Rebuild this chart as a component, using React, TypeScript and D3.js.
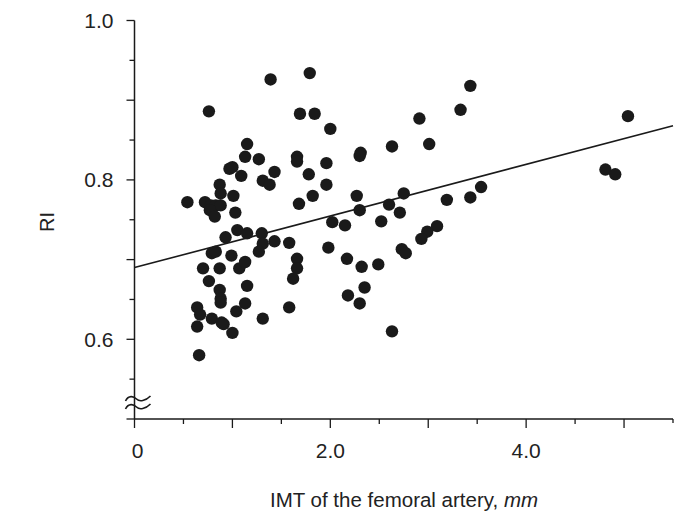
import React, { useEffect, useRef } from "react";
import * as d3 from "d3";

// IMT of the femoral artery (mm) and RI for each subject
const imt = [
  0.54, 0.76, 1.39, 1.79, 1.69, 1.84, 2.0, 1.15, 1.13, 1.27,
  0.97, 1.0, 1.09, 1.31, 1.38, 1.43, 1.66, 1.66, 1.78, 1.96,
  1.96, 1.82, 1.68, 2.31, 2.3, 2.63, 2.27, 2.3, 2.6, 2.75,
  2.71, 2.02, 2.15, 2.52, 1.98, 2.17, 2.32, 2.49, 2.73, 2.77,
  2.18, 2.35, 2.3, 2.63, 0.72, 0.87, 0.88, 0.78, 0.83, 0.88,
  0.77, 0.82, 1.01, 1.03, 1.05, 1.15, 0.93, 1.3, 1.31, 1.27,
  1.43, 1.58, 1.66, 1.66, 1.62, 0.79, 0.83, 0.99, 0.7, 0.87,
  1.07, 1.13, 0.76, 0.87, 0.88, 0.88, 1.15, 1.13, 1.04, 0.64,
  0.67, 0.79, 0.89, 0.91, 0.64, 1.0, 1.31, 1.58, 0.66, 3.43,
  3.33, 2.91, 3.01, 5.04, 4.81, 4.91, 3.54, 3.43, 3.19, 3.09,
  2.99, 2.93,
];
const ri = [
  0.772, 0.886, 0.926, 0.934, 0.883, 0.883, 0.864, 0.845, 0.829, 0.826,
  0.814, 0.816, 0.805, 0.799, 0.794, 0.81, 0.829, 0.823, 0.807, 0.821,
  0.794, 0.78, 0.77, 0.834, 0.83, 0.842, 0.78, 0.762, 0.769, 0.783,
  0.759, 0.747, 0.743, 0.748, 0.715, 0.701, 0.691, 0.694, 0.713, 0.708,
  0.655, 0.665, 0.645, 0.61, 0.772, 0.794, 0.783, 0.768, 0.768, 0.768,
  0.762, 0.754, 0.78, 0.759, 0.737, 0.733, 0.728, 0.733, 0.72, 0.71,
  0.723, 0.721, 0.701, 0.689, 0.676, 0.708, 0.71, 0.705, 0.689, 0.689,
  0.689, 0.697, 0.673, 0.662, 0.651, 0.646, 0.667, 0.645, 0.635, 0.64,
  0.631, 0.626, 0.621, 0.619, 0.616, 0.608, 0.626, 0.64, 0.58, 0.918,
  0.888, 0.877, 0.845, 0.88, 0.813, 0.807, 0.791, 0.778, 0.775, 0.742,
  0.735, 0.726,
];

// regression line end points
const fitX = [0, 5.5];
const fitY = [0.69, 0.868];

const xTickLabels = ["0", "2.0", "4.0"];
const yTickLabels = ["0.6", "0.8", "1.0"];

export default function App() {
  const ref = useRef<SVGSVGElement>(null);

  useEffect(() => {
    const svg = d3.select(ref.current);
    svg.selectAll("*").remove();

    const x = d3.scaleLinear().domain([0, 5.5]).range([134.5, 673]);
    const y = d3.scaleLinear().domain([0.5, 1.0]).range([419, 20.5]);
    const ink = "#1a1a1a";
    const font = "'Liberation Sans', Arial, sans-serif";

    const g = svg.append("g");

    // axis lines
    g.append("line")
      .attr("x1", x(0)).attr("x2", x(0))
      .attr("y1", y(1.0)).attr("y2", y(0.5))
      .attr("stroke", ink).attr("stroke-width", 1.5);
    g.append("line")
      .attr("x1", x(0)).attr("x2", x(5.5))
      .attr("y1", y(0.5)).attr("y2", y(0.5))
      .attr("stroke", ink).attr("stroke-width", 1.5);

    // x ticks every 0.5, long ones on whole numbers
    const xt = d3.range(0, 5.51, 0.5);
    g.selectAll(".xt").data(xt).enter().append("line")
      .attr("x1", d => x(d)).attr("x2", d => x(d))
      .attr("y1", y(0.5))
      .attr("y2", (d, i) => y(0.5) + (i === xt.length - 1 ? 4 : i % 2 === 0 ? 9 : 5))
      .attr("stroke", ink).attr("stroke-width", 1.3);

    // y ticks every 0.05
    const yt = d3.range(0.5, 1.001, 0.05);
    g.selectAll(".yt").data(yt).enter().append("line")
      .attr("x1", (d, i) => x(0) - (i % 2 === 0 ? 8 : 5)).attr("x2", x(0))
      .attr("y1", d => y(d)).attr("y2", d => y(d))
      .attr("stroke", ink).attr("stroke-width", 1.3);

    // axis break
    const bx = x(0);
    [399, 407].forEach(by => {
      g.append("path")
        .attr("d", `M${bx - 9},${by + 2} C${bx - 6},${by - 4} ${bx - 1},${by - 3} ${bx + 2},${by} S${bx + 11},${by + 2} ${bx + 16},${by - 3}`)
        .attr("fill", "none").attr("stroke", ink).attr("stroke-width", 1.6);
    });

    // tick labels
    g.selectAll(".xl").data(xTickLabels).enter().append("text")
      .attr("x", d => x(+d) + (d === "0" ? 3 : 0))
      .attr("y", 458)
      .attr("text-anchor", "middle")
      .attr("font-family", font).attr("font-size", 21)
      .attr("fill", "#222")
      .text(d => d);

    g.selectAll(".yl").data(yTickLabels).enter().append("text")
      .attr("x", 113.5)
      .attr("y", d => y(+d) + 7.5)
      .attr("text-anchor", "end")
      .attr("font-family", font).attr("font-size", 21)
      .attr("fill", "#222")
      .text(d => d);

    // axis titles
    const xt2 = g.append("text")
      .attr("x", 404).attr("y", 507)
      .attr("text-anchor", "middle")
      .attr("font-family", font).attr("font-size", 20.5)
      .attr("fill", "#222");
    xt2.append("tspan").text("IMT of the femoral artery, ");
    xt2.append("tspan").attr("font-style", "italic").text("mm");

    g.append("text")
      .attr("transform", `translate(54, 222) rotate(-90)`)
      .attr("text-anchor", "middle")
      .attr("font-family", font).attr("font-size", 20)
      .attr("fill", "#222")
      .text("RI");

    // regression line
    g.append("line")
      .attr("x1", x(fitX[0])).attr("y1", y(fitY[0]))
      .attr("x2", x(fitX[1])).attr("y2", y(fitY[1]))
      .attr("stroke", ink).attr("stroke-width", 1.6);

    // points
    g.selectAll(".dot").data(imt).enter().append("circle")
      .attr("cx", d => x(d))
      .attr("cy", (d, i) => y(ri[i]))
      .attr("r", 6.2)
      .attr("fill", ink);
  }, []);

  return (
    <svg
      ref={ref}
      width={684}
      height={515}
      style={{ position: "absolute", left: 0, top: 0, background: "#fff" }}
    />
  );
}
